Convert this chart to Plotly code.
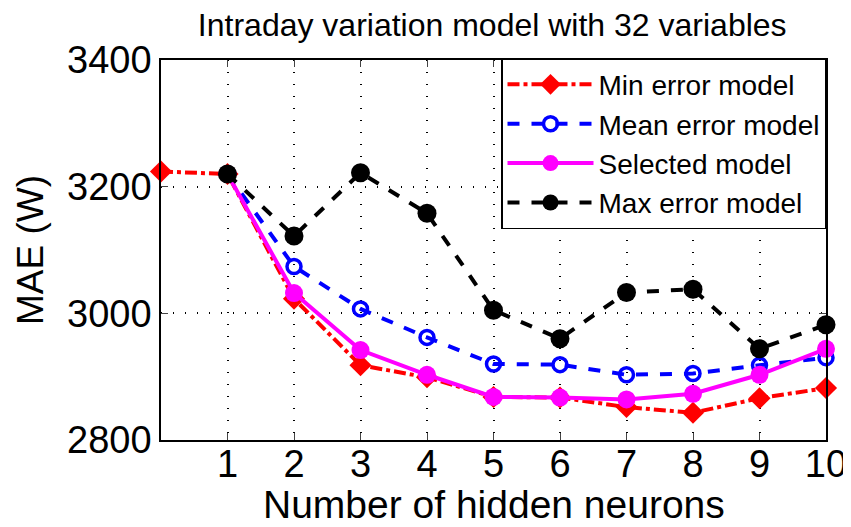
import plotly.graph_objects as go

# data
neurons = [0, 1, 2, 3, 4, 5, 6, 7, 8, 9, 10]
min_err = [3224, 3220, 3023, 2918, 2899, 2868, 2867, 2852, 2843, 2866, 2882]

neurons_b = [1, 2, 3, 4, 5, 6, 7, 8, 9, 10]
mean_err = [3220, 3074, 3007, 2962, 2920, 2919, 2903, 2905, 2918, 2930]
selected = [3220, 3032, 2942, 2903, 2868, 2867, 2864, 2873, 2903, 2944]
max_err = [3220, 3122, 3222, 3158, 3005, 2960, 3033, 3038, 2944, 2982]

x_ticks = [1, 2, 3, 4, 5, 6, 7, 8, 9, 10]
y_ticks = [2800, 3000, 3200, 3400]

fig = go.Figure()

fig.add_trace(go.Scatter(
    x=neurons, y=min_err, name="Min error model", mode="lines+markers",
    line=dict(color="red", width=4, dash="dashdot"),
    marker=dict(symbol="diamond", size=17, color="red"),
    cliponaxis=False))
fig.add_trace(go.Scatter(
    x=neurons_b, y=mean_err, name="Mean error model", mode="lines+markers",
    line=dict(color="blue", width=4, dash="dash"),
    marker=dict(symbol="circle-open", size=14, color="blue", line=dict(width=3.5)),
    cliponaxis=False))
fig.add_trace(go.Scatter(
    x=neurons_b, y=selected, name="Selected model", mode="lines+markers",
    line=dict(color="magenta", width=4),
    marker=dict(symbol="circle", size=18, color="magenta"),
    cliponaxis=False))
fig.add_trace(go.Scatter(
    x=neurons_b, y=max_err, name="Max error model", mode="lines+markers",
    line=dict(color="black", width=4, dash="dash"),
    marker=dict(symbol="circle", size=19, color="black"),
    cliponaxis=False))

font = "Liberation Sans, Arial, sans-serif"

fig.update_layout(
    width=851, height=527,
    margin=dict(l=153, r=31, t=52, b=95),
    paper_bgcolor="white", plot_bgcolor="white",
    font=dict(family=font, color="black"),
    title=dict(text="Intraday variation model with 32 variables",
               xref="container", x=0.569, xanchor="center",
               yref="container", y=0.99, yanchor="top",
               font=dict(size=32, family=font, color="black")),
    legend=dict(x=1, xanchor="right", y=1.005, yanchor="top",
                bgcolor="white", bordercolor="black", borderwidth=1.5,
                font=dict(size=28, family=font, color="black"),
                itemwidth=86, tracegroupgap=0),
    showlegend=True,
    annotations=[dict(text="Number of hidden neurons", xref="paper", yref="paper",
                      x=0.5, y=-0.17, xanchor="center", yanchor="middle",
                      showarrow=False, font=dict(size=39, family=font, color="black"))],
)

fig.update_xaxes(
    range=[0, 10], tickvals=x_ticks, ticks="inside", ticklen=7,
    tickfont=dict(size=38), ticklabelstandoff=-10,
    showline=True, linecolor="black", linewidth=1.5,
    mirror="ticks", showgrid=True, gridcolor="black", gridwidth=1.5,
    griddash="1px,11px", zeroline=False,
)
fig.update_yaxes(
    range=[2800, 3400], tickvals=y_ticks, ticks="inside", ticklen=7,
    tickfont=dict(size=38), showline=True, linecolor="black", linewidth=1.5,
    mirror="ticks", showgrid=True, gridcolor="black", gridwidth=1.5,
    griddash="1px,11px", zeroline=False,
    title=dict(text="MAE (W)", font=dict(size=37), standoff=12),
)

fig.write_html("out.html")
